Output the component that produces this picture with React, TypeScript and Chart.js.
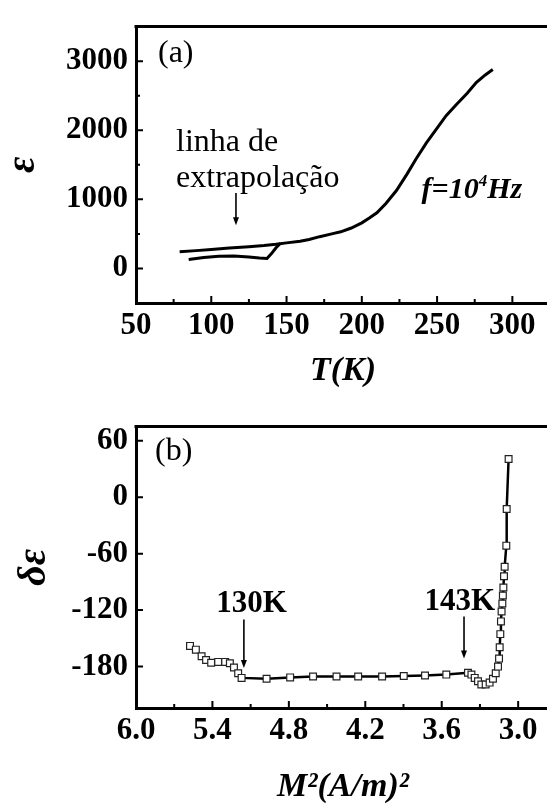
import React, { useEffect, useRef } from "react";
import { Chart, registerables } from "chart.js";

Chart.register(...registerables);

const SERIF = '"Liberation Serif", "Times New Roman", Times, serif';

// ---------- Panel (a): permittivity vs temperature ----------
const tempUpper = [79, 90, 100, 112, 125, 135, 143, 150, 159, 165, 172, 180, 186, 193, 200, 205, 210, 216, 223, 230, 236, 243, 250, 256, 263, 270, 276, 282, 287];
const epsUpper = [240, 258, 275, 295, 315, 332, 350, 370, 395, 420, 460, 500, 530, 585, 660, 730, 806, 940, 1128, 1365, 1585, 1820, 2030, 2210, 2375, 2535, 2690, 2800, 2878];
const tempLower = [85, 95, 105, 115, 125, 132, 137, 140, 143, 146];
const epsLower = [130, 160, 178, 180, 165, 150, 145, 215, 300, 365];
const xTicksA = [50, 100, 150, 200, 250, 300];
const xMinorA = [75, 125, 175, 225, 275];
const yTicksA = [0, 1000, 2000, 3000];
const yMinorA = [500, 1500, 2500];

// ---------- Panel (b): delta epsilon vs M^2 ----------
const m2Values = [5.576, 5.53, 5.485, 5.45, 5.41, 5.355, 5.3, 5.263, 5.231, 5.198, 5.171, 4.975, 4.79, 4.61, 4.426, 4.256, 4.068, 3.898, 3.731, 3.564, 3.394, 3.367, 3.341, 3.315, 3.289, 3.255, 3.224, 3.198, 3.176, 3.158, 3.15, 3.145, 3.14, 3.135, 3.13, 3.124, 3.12, 3.116, 3.111, 3.106, 3.093, 3.09, 3.075];
const deltaEps = [-158, -162, -169, -173, -176, -175, -175, -176.5, -181, -187, -192, -193, -191.5, -190.5, -190.5, -190.5, -190.5, -190, -189.5, -188.5, -186.5, -188.5, -192, -195.5, -199, -199, -197, -193, -187, -180, -171.5, -159.5, -145.5, -132, -121.5, -113, -104.5, -96, -84, -74, -51.5, -12.5, 40.5];
const xTicksB = [6.0, 5.4, 4.8, 4.2, 3.6, 3.0];
const xMinorB = [5.7, 5.1, 4.5, 3.9, 3.3];
const yTicksB = [60, 0, -60, -120, -180];

// annotation anchors in data units
const annA = { tagT: 64.6, tagE: 3107, textT: 76.6, line1E: 1704, line2E: 1176, arrowT: 116.4, arrowFromE: 1093, arrowToE: 625, freqT: 239.7, freqE: 1019 };
const annB = { tagM: 5.851, tagD: 48, lowLabelM: 5.093, lowLabelD: -113, lowArrowM: 5.153, lowArrowFrom: -130, lowArrowTo: -181.6, highLabelM: 3.459, highLabelD: -111.4, highArrowM: 3.425, highArrowFrom: -126.8, highArrowTo: -171.4 };

const W = 562;
const HA = 400;
const HB = 409;
const PLOT_RIGHT = 550;

const tickFont = { family: SERIF, size: 31, weight: "bold" as const };
const xTitleFont = { family: SERIF, size: 34, weight: "bold" as const, style: "italic" as const };
const yTitleFont = { family: SERIF, size: 40, weight: "bold" as const, style: "italic" as const };

function drawArrow(ctx: CanvasRenderingContext2D, x: number, y1: number, y2: number) {
  ctx.beginPath();
  ctx.lineWidth = 1.6;
  ctx.moveTo(x, y1);
  ctx.lineTo(x, y2 - 6);
  ctx.stroke();
  ctx.beginPath();
  ctx.moveTo(x - 3, y2 - 8);
  ctx.lineTo(x + 3, y2 - 8);
  ctx.lineTo(x, y2);
  ctx.closePath();
  ctx.fill();
}

function framePlugin(xMaj: number[], xMin: number[], yMaj: number[], yMin: number[], annotate: (ctx: CanvasRenderingContext2D, xs: any, ys: any) => void) {
  return {
    id: "frame",
    afterDraw(chart: any) {
      const { ctx, chartArea } = chart;
      const { left, right, top, bottom } = chartArea;
      const xs = chart.scales.x;
      const ys = chart.scales.y;
      ctx.save();
      ctx.strokeStyle = "#000";
      ctx.fillStyle = "#000";
      ctx.lineWidth = 3;
      ctx.beginPath();
      ctx.moveTo(left - 1.5, top);
      ctx.lineTo(right, top);
      ctx.lineTo(right, bottom);
      ctx.stroke();
      ctx.lineWidth = 2;
      ctx.beginPath();
      xMaj.forEach((v) => { const p = xs.getPixelForValue(v); ctx.moveTo(p, bottom); ctx.lineTo(p, bottom - 7); });
      xMin.forEach((v) => { const p = xs.getPixelForValue(v); ctx.moveTo(p, bottom); ctx.lineTo(p, bottom - 4); });
      yMaj.forEach((v) => { const p = ys.getPixelForValue(v); ctx.moveTo(left, p); ctx.lineTo(left + 7, p); });
      yMin.forEach((v) => { const p = ys.getPixelForValue(v); ctx.moveTo(left, p); ctx.lineTo(left + 4, p); });
      ctx.stroke();
      annotate(ctx, xs, ys);
      ctx.restore();
    },
  };
}

function axisX(min: number, max: number, ticks: number[], fmt: (v: number) => string, title: string, height: number, padBottom: number, reverse = false) {
  return {
    type: "linear" as const,
    min,
    max,
    reverse,
    afterBuildTicks: (s: any) => { s.ticks = ticks.map((v) => ({ value: v })); },
    afterFit: (s: any) => { s.height = height; },
    grid: { display: false, drawTicks: false },
    border: { display: true, color: "#000", width: 3 },
    ticks: { font: tickFont, color: "#000", padding: 4, maxRotation: 0, autoSkip: false, callback: (v: any) => fmt(Number(v)) },
    title: { display: true, text: title, font: xTitleFont, color: "#000", padding: { top: 0, bottom: padBottom } },
  };
}

function axisY(min: number, max: number, ticks: number[], title: string, padTop: number) {
  return {
    type: "linear" as const,
    min,
    max,
    afterBuildTicks: (s: any) => { s.ticks = ticks.map((v) => ({ value: v })); },
    afterFit: (s: any) => { s.width = 136; },
    grid: { display: false, drawTicks: false },
    border: { display: true, color: "#000", width: 3 },
    ticks: { font: tickFont, color: "#000", padding: 8, autoSkip: false, callback: (v: any) => String(v) },
    title: { display: true, text: title, font: yTitleFont, color: "#000", padding: { top: padTop, bottom: 0 } },
  };
}

export default function App() {
  const refA = useRef<HTMLCanvasElement | null>(null);
  const refB = useRef<HTMLCanvasElement | null>(null);

  useEffect(() => {
    const upper = tempUpper.map((t, i) => ({ x: t, y: epsUpper[i] }));
    const lower = tempLower.map((t, i) => ({ x: t, y: epsLower[i] }));
    const pointsB = m2Values.map((m, i) => ({ x: m, y: deltaEps[i] }));

    const annotateA = (ctx: CanvasRenderingContext2D, xs: any, ys: any) => {
      ctx.textAlign = "left";
      ctx.textBaseline = "middle";
      ctx.font = `normal 32px ${SERIF}`;
      ctx.fillText("(a)", xs.getPixelForValue(annA.tagT), ys.getPixelForValue(annA.tagE));
      ctx.textBaseline = "alphabetic";
      ctx.fillText("linha de", xs.getPixelForValue(annA.textT), ys.getPixelForValue(annA.line1E));
      ctx.fillText("extrapolação", xs.getPixelForValue(annA.textT), ys.getPixelForValue(annA.line2E));
      drawArrow(ctx, xs.getPixelForValue(annA.arrowT), ys.getPixelForValue(annA.arrowFromE), ys.getPixelForValue(annA.arrowToE));
      let x = xs.getPixelForValue(annA.freqT);
      const y = ys.getPixelForValue(annA.freqE);
      ctx.font = `italic bold 30px ${SERIF}`;
      ctx.fillText("f=10", x, y);
      x += ctx.measureText("f=10").width;
      ctx.font = `italic bold 17px ${SERIF}`;
      ctx.fillText("4", x, y - 12);
      x += ctx.measureText("4").width;
      ctx.font = `italic bold 30px ${SERIF}`;
      ctx.fillText("Hz", x, y);
    };

    const annotateB = (ctx: CanvasRenderingContext2D, xs: any, ys: any) => {
      ctx.textAlign = "left";
      ctx.textBaseline = "middle";
      ctx.font = `normal 32px ${SERIF}`;
      ctx.fillText("(b)", xs.getPixelForValue(annB.tagM), ys.getPixelForValue(annB.tagD));
      ctx.textAlign = "center";
      ctx.font = `bold 31px ${SERIF}`;
      ctx.fillText("130K", xs.getPixelForValue(annB.lowLabelM), ys.getPixelForValue(annB.lowLabelD));
      ctx.fillText("143K", xs.getPixelForValue(annB.highLabelM), ys.getPixelForValue(annB.highLabelD));
      drawArrow(ctx, xs.getPixelForValue(annB.lowArrowM), ys.getPixelForValue(annB.lowArrowFrom), ys.getPixelForValue(annB.lowArrowTo));
      drawArrow(ctx, xs.getPixelForValue(annB.highArrowM), ys.getPixelForValue(annB.highArrowFrom), ys.getPixelForValue(annB.highArrowTo));
    };

    const chartA = new Chart(refA.current as HTMLCanvasElement, {
      type: "scatter",
      data: {
        datasets: [
          { data: upper, showLine: true, borderColor: "#000", borderWidth: 3, pointRadius: 0, fill: false },
          { data: lower, showLine: true, borderColor: "#000", borderWidth: 3, pointRadius: 0, fill: false },
        ],
      },
      options: {
        responsive: false,
        animation: false,
        layout: { padding: { left: 0, top: 15, right: W - PLOT_RIGHT, bottom: 0 } },
        plugins: { legend: { display: false }, tooltip: { enabled: false } },
        scales: {
          x: axisX(50, 325, xTicksA, (v) => String(v), "T(K)", HA - 303, 8),
          y: axisY(-500, 3500, yTicksA, "ε", 0),
        },
      },
      plugins: [framePlugin(xTicksA, xMinorA, yTicksA, yMinorA, annotateA)],
    } as any);

    const chartB = new Chart(refB.current as HTMLCanvasElement, {
      type: "scatter",
      data: {
        datasets: [
          {
            data: pointsB,
            showLine: true,
            borderColor: "#000",
            borderWidth: 2.5,
            pointStyle: "rect",
            pointRadius: 4.8,
            pointBackgroundColor: "#fff",
            pointBorderColor: "#222",
            pointBorderWidth: 1.2,
            fill: false,
          },
        ],
      },
      options: {
        responsive: false,
        animation: false,
        layout: { padding: { left: 0, top: 19, right: W - PLOT_RIGHT, bottom: 0 } },
        plugins: { legend: { display: false }, tooltip: { enabled: false } },
        scales: {
          x: axisX(2.75, 6.0, xTicksB, (v) => v.toFixed(1), "M²(A/m)²", HB - 308, 1, true),
          y: axisY(-224, 75, yTicksB, "δε", 11),
        },
      },
      plugins: [framePlugin(xTicksB, xMinorB, yTicksB, [], annotateB)],
    } as any);

    return () => {
      chartA.destroy();
      chartB.destroy();
    };
  }, []);

  return (
    <div style={{ position: "fixed", left: 0, top: 0, width: 547, height: 809, overflow: "hidden", background: "#fff" }}>
      <canvas ref={refA} width={W} height={HA} style={{ position: "absolute", left: 0, top: 0 }} />
      <canvas ref={refB} width={W} height={HB} style={{ position: "absolute", left: 0, top: HA }} />
    </div>
  );
}
